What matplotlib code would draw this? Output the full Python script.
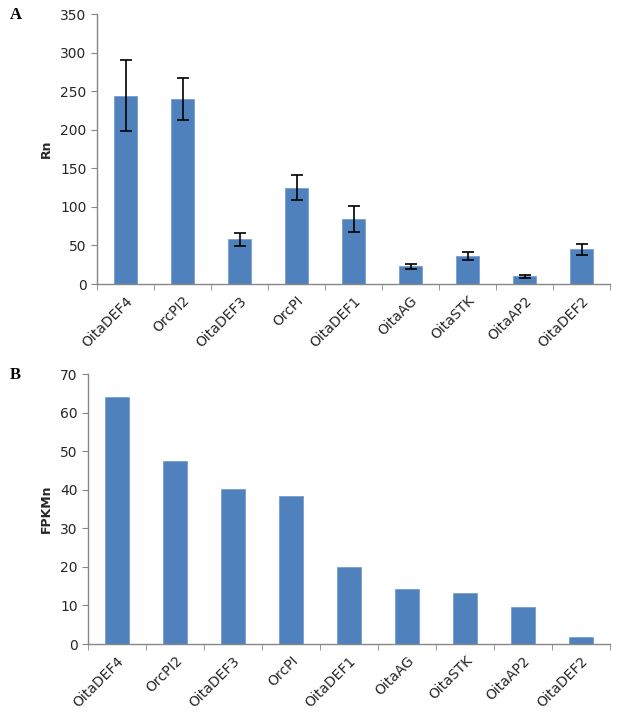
import numpy as np
import matplotlib
matplotlib.use("Agg")
import matplotlib.pyplot as plt
from matplotlib.ticker import FixedLocator

genes = ["OitaDEF4", "OrcPI2", "OitaDEF3", "OrcPI", "OitaDEF1",
         "OitaAG", "OitaSTK", "OitaAP2", "OitaDEF2"]

# panel A: qPCR relative expression (Rn) with error bars
rn_values = [244, 240, 58, 125, 84, 23, 36, 10, 45]
rn_errors = [46, 27, 8.5, 16, 17, 3.5, 5.5, 2, 7.5]
rn_ticks = [0, 50, 100, 150, 200, 250, 300, 350]

# panel B: RNA-seq FPKMn
fpkm_values = [64.1, 47.4, 40.1, 38.4, 19.9, 14.2, 13.1, 9.5, 1.7]
fpkm_ticks = [0, 10, 20, 30, 40, 50, 60, 70]

BAR = "#4F81BD"
AXC = "#868686"
TXT = "#262626"

fig = plt.figure(figsize=(6.18, 7.19), dpi=100)
axA = fig.add_axes([97/618, 1 - 284/719, (610 - 97)/618, 270/719])
axB = fig.add_axes([88/618, 1 - 644/719, (610 - 88)/618, 270/719])


def style(ax, ticks, ylabel):
    x = np.arange(len(genes))
    ax.set_xlim(-0.5, len(genes) - 0.5)
    ax.set_ylim(ticks[0], ticks[-1])
    ax.set_yticks(ticks)
    for s in ("top", "right"):
        ax.spines[s].set_visible(False)
    for s in ("left", "bottom"):
        ax.spines[s].set_color(AXC)
        ax.spines[s].set_linewidth(1.0)
    ax.set_xticks(x)
    ax.set_xticklabels(genes, rotation=45, ha="right", rotation_mode="anchor",
                       fontsize=10, color=TXT)
    ax.tick_params(axis="x", which="major", length=0, pad=7)
    ax.xaxis.set_minor_locator(FixedLocator(np.arange(len(genes) + 1) - 0.5))
    ax.tick_params(axis="x", which="minor", length=4, color=AXC, direction="out")
    ax.tick_params(axis="y", length=4, color=AXC, labelsize=10, labelcolor=TXT)
    ax.set_ylabel(ylabel, fontsize=9, fontweight="bold", color=TXT, labelpad=5)


x = np.arange(len(genes))
axA.bar(x, rn_values, width=0.39, color=BAR, edgecolor="#6d97cc", linewidth=0.5,
        yerr=rn_errors, capsize=4, error_kw=dict(ecolor="black", elinewidth=1.2, capthick=1.2))
style(axA, rn_ticks, "Rn")

axB.bar(x, fpkm_values, width=0.4, color=BAR, edgecolor="#6d97cc", linewidth=0.5)
style(axB, fpkm_ticks, "FPKMn")

fig.text(10/618, 1 - 15/719, "A", fontsize=12, fontweight="bold",
         family="Liberation Serif", va="center")
fig.text(10/618, 1 - 375/719, "B", fontsize=12, fontweight="bold",
         family="Liberation Serif", va="center")

fig.savefig("out.png", dpi=100)
